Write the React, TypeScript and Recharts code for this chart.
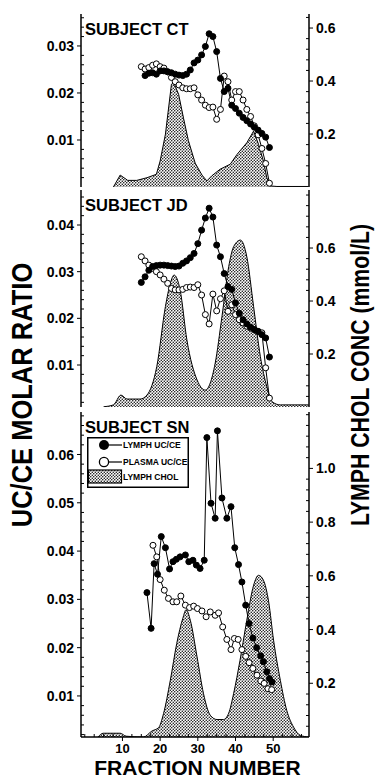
import React from "react";
import { ComposedChart, Area, Line, XAxis, YAxis, Legend } from "recharts";

// ---- values ----

// Subject CT
const CT_LYMPH_FRAC = [16, 17, 18, 19, 20, 21, 22, 23, 24, 25, 26, 27, 28, 29, 30, 31, 32, 33, 34, 35, 36, 37, 38, 39, 40, 41, 42, 43, 44, 45, 46, 47, 48, 49];
const CT_LYMPH = [0.0237, 0.0242, 0.0243, 0.024, 0.0247, 0.0247, 0.0245, 0.0243, 0.024, 0.0238, 0.0237, 0.024, 0.0249, 0.0264, 0.027, 0.0281, 0.0299, 0.0326, 0.032, 0.0288, 0.0231, 0.0203, 0.021, 0.0174, 0.0167, 0.0157, 0.0148, 0.0141, 0.0134, 0.0127, 0.0121, 0.0114, 0.0106, 0.0084];
const CT_PLASMA_FRAC = [15, 16, 17, 18, 19, 20, 21, 22, 23, 24, 25, 26, 27, 28, 29, 30, 31, 32, 33, 34, 35, 36, 37, 38, 39, 40, 41, 42, 43, 44, 45, 46, 47, 48, 49];
const CT_PLASMA = [0.0256, 0.0251, 0.0254, 0.0259, 0.0262, 0.0256, 0.0253, 0.0245, 0.0233, 0.0224, 0.0217, 0.0211, 0.0209, 0.0209, 0.0211, 0.0196, 0.0185, 0.0174, 0.0169, 0.017, 0.0144, 0.0165, 0.0236, 0.0224, 0.0185, 0.0203, 0.0203, 0.0185, 0.0165, 0.015, 0.013, 0.0111, 0.0082, 0.005, 0.0008];
const CT_CHOL_FRAC = [7.6, 9.4, 11.4, 13.8, 16.5, 19.0, 20.0, 21.4, 23.0, 23.6, 24.9, 26.2, 27.5, 29.3, 31.1, 32.4, 33.7, 35.9, 38.6, 40.4, 43.0, 44.8, 46.1, 47.4, 48.3, 49.2, 51.0, 59.4];
const CT_CHOL = [0, 0.045, 0.025, 0.025, 0.035, 0.048, 0.098, 0.199, 0.388, 0.394, 0.35, 0.26, 0.175, 0.09, 0.045, 0.023, 0.042, 0.067, 0.086, 0.123, 0.167, 0.211, 0.161, 0.098, 0.035, 0.004, 0.002, 0.002];

// Subject JD
const JD_FRAC = [15, 16, 17, 18, 19, 20, 21, 22, 23, 24, 25, 26, 27, 28, 29, 30, 31, 32, 33, 34, 35, 36, 37, 38, 39, 40, 41, 42, 43, 44, 45, 46, 47, 48, 49];
const JD_LYMPH = [0.0277, 0.0289, 0.0303, 0.0311, 0.0313, 0.0314, 0.0314, 0.0313, 0.0312, 0.0311, 0.0312, 0.0318, 0.0323, 0.033, 0.0339, 0.036, 0.0389, 0.0415, 0.0436, 0.0417, 0.0357, 0.0332, 0.0296, 0.0268, 0.0262, 0.0233, 0.0211, 0.0197, 0.0188, 0.0181, 0.0176, 0.0172, 0.0165, 0.0158, 0.0117];
const JD_PLASMA = [0.0332, 0.0323, 0.0314, 0.0307, 0.03, 0.0293, 0.0284, 0.0275, 0.0264, 0.0261, 0.0261, 0.0262, 0.0266, 0.0267, 0.0266, 0.0272, 0.025, 0.0208, 0.0188, 0.0252, 0.0216, 0.0242, 0.0259, 0.0215, 0.0229, 0.0208, 0.0197, 0.019, 0.0183, 0.0179, 0.0176, 0.0172, 0.0169, 0.0094, 0.0029];
const JD_CHOL_FRAC = [5.0, 7.6, 9.6, 11.2, 14.7, 16.5, 19.1, 21.4, 22.7, 23.7, 25.3, 27.1, 29.8, 32.0, 34.6, 36.4, 38.2, 39.5, 41.3, 43.0, 44.8, 46.6, 48.3, 49.7, 51.9, 59.4];
const JD_CHOL = [0.001, 0.008, 0.045, 0.03, 0.03, 0.045, 0.152, 0.379, 0.467, 0.498, 0.442, 0.253, 0.102, 0.064, 0.165, 0.341, 0.53, 0.605, 0.63, 0.567, 0.379, 0.19, 0.077, 0.02, 0.008, 0.008];

// Subject SN
const SN_LYMPH_FRAC = [16.5, 17.6, 18.4, 19.3, 20.3, 21.4, 22.5, 23.4, 24.3, 25.3, 26.7, 27.6, 28.7, 29.6, 30.6, 31.7, 32.4, 33.5, 34.6, 35.2, 36.4, 37.7, 38.8, 39.8, 40.8, 41.7, 42.7, 43.6, 44.6, 45.6, 46.7, 47.4, 48.3, 49.0, 49.7];
const SN_LYMPH = [0.0314, 0.024, 0.0374, 0.0352, 0.043, 0.0407, 0.0363, 0.0378, 0.0383, 0.0388, 0.0392, 0.0378, 0.0381, 0.0371, 0.0364, 0.0381, 0.0635, 0.0499, 0.0468, 0.0649, 0.051, 0.0468, 0.0492, 0.0407, 0.0372, 0.0336, 0.0288, 0.025, 0.022, 0.02, 0.0183, 0.0171, 0.015, 0.0136, 0.0129];
const SN_PLASMA_FRAC = [18.1, 19.1, 20.0, 21.1, 22.2, 23.4, 24.4, 25.5, 26.7, 27.8, 28.9, 29.9, 31.1, 32.2, 33.3, 34.6, 35.5, 36.6, 37.7, 38.8, 39.7, 40.7, 41.7, 42.7, 43.6, 44.6, 45.7, 46.7, 47.6, 48.6, 49.6];
const SN_PLASMA = [0.0412, 0.0388, 0.0341, 0.0319, 0.0302, 0.0295, 0.0295, 0.0307, 0.0288, 0.0283, 0.0286, 0.0281, 0.0276, 0.0264, 0.0274, 0.0267, 0.0272, 0.0243, 0.0217, 0.0196, 0.0219, 0.0217, 0.0196, 0.0182, 0.0169, 0.0157, 0.0143, 0.0131, 0.0126, 0.0115, 0.0113];
const SN_CHOL_FRAC = [3.5, 4.9, 9.4, 11.0, 15.6, 17.8, 19.6, 20.9, 22.7, 24.4, 26.0, 26.9, 28.0, 29.8, 31.5, 33.3, 35.1, 36.8, 38.2, 39.5, 41.2, 43.0, 44.8, 46.1, 47.4, 48.8, 50.1, 51.9, 53.6, 55.4, 57.2, 59.4];
const SN_CHOL = [0, 0.014, 0.014, 0.003, 0, 0.022, 0.035, 0.087, 0.211, 0.348, 0.441, 0.474, 0.435, 0.298, 0.162, 0.081, 0.065, 0.065, 0.089, 0.162, 0.286, 0.435, 0.565, 0.602, 0.584, 0.503, 0.36, 0.211, 0.099, 0.037, 0.006, 0];

// axes
const X_DOMAIN: [number, number] = [-1, 59.5];
const X_LABELS = [10, 20, 30, 40, 50];
const CT_LEFT_LABELS = [0.01, 0.02, 0.03];
const JD_LEFT_LABELS = [0.01, 0.02, 0.03, 0.04];
const SN_LEFT_LABELS = [0.01, 0.02, 0.03, 0.04, 0.05, 0.06];
const CT_RIGHT_LABELS = [0.2, 0.4, 0.6];
const JD_RIGHT_LABELS = [0.2, 0.4, 0.6];
const SN_RIGHT_LABELS = [0.2, 0.4, 0.6, 0.8, 1.0];
const LEGEND_ITEMS = ["LYMPH UC/CE", "PLASMA UC/CE", "LYMPH CHOL"];

const FONT = '"Liberation Sans", Arial, Helvetica, sans-serif';
const TS = 4;
const TM = 3;
const PAD = 6;
const XLAB_H = 20;
const AXIS_LINE = { stroke: "#000", strokeWidth: 1.5 };

type Pt = { f: number; v: number };
const zip = (f: number[], v: number[]): Pt[] => f.map((x, i) => ({ f: x, v: v[i] }));

// minor tick positions between start and end
const steps = (start: number, end: number, step: number) => {
  const out: number[] = [];
  for (let k = 0; start + k * step <= end + 1e-9; k++) {
    out.push(Math.round((start + k * step) * 1e6) / 1e6);
  }
  return out;
};

const isIn = (list: number[], v: number) => list.some((m) => Math.abs(m - v) < 1e-7);

function makeTick(
  side: "left" | "right" | "top" | "bottom",
  majors: number[],
  fmt: (v: number) => string,
  labels: boolean
) {
  return (props: any) => {
    const { x, y, payload } = props;
    const v = payload.value;
    const major = isIn(majors, v);
    const off = TS + TM;
    const txt = {
      fontFamily: FONT,
      fontWeight: 700,
      fontSize: 14,
      fill: "#000",
    };
    if (side === "left") {
      const ax = x + off;
      return (
        <g>
          <line x1={ax} y1={y} x2={major ? ax - 4 : ax + 3} y2={y} stroke="#000" />
          {major && labels && (
            <text x={x} y={y} dy="0.36em" textAnchor="end" {...txt}>
              {fmt(v)}
            </text>
          )}
        </g>
      );
    }
    if (side === "right") {
      const ax = x - off;
      return (
        <g>
          <line x1={ax} y1={y} x2={major ? ax + 4 : ax - 3} y2={y} stroke="#000" />
          {major && labels && (
            <text x={x} y={y} dy="0.36em" textAnchor="start" {...txt}>
              {fmt(v)}
            </text>
          )}
        </g>
      );
    }
    if (side === "bottom") {
      const ay = y - off;
      return (
        <g>
          <line x1={x} y1={ay} x2={x} y2={major ? ay + 4 : ay - 3} stroke="#000" />
          {major && labels && (
            <text x={x} y={y} dy="0.72em" textAnchor="middle" {...txt} fontSize={13}>
              {fmt(v)}
            </text>
          )}
        </g>
      );
    }
    const ay = y + off;
    return (
      <g>
        <line x1={x} y1={ay} x2={x} y2={major ? ay - 4 : ay + 3} stroke="#000" />
      </g>
    );
  };
}

// stipple fill for the lymph cholesterol profile
function Dots({ id }: { id: string }) {
  return (
    <pattern id={id} width="3" height="3" patternUnits="userSpaceOnUse">
      <rect width="3" height="3" fill="#fff" />
      <circle cx="0.75" cy="0.75" r="0.75" fill="#000" />
      <circle cx="2.25" cy="2.25" r="0.75" fill="#000" />
    </pattern>
  );
}

function LegendBox() {
  const t = { fontFamily: FONT, fontWeight: 700, fontSize: 8.5, fill: "#000" };
  return (
    <svg width={102} height={51} style={{ display: "block" }}>
      <defs>
        <Dots id="dotsLegend" />
      </defs>
      <rect x={0.75} y={0.75} width={100.5} height={49.5} fill="#fff" stroke="#000" strokeWidth={1.5} />
      <line x1={17} y1={8} x2={35} y2={8} stroke="#000" strokeWidth={1.2} />
      <circle cx={17} cy={8} r={5} fill="#000" />
      <line x1={17} y1={25} x2={35} y2={25} stroke="#000" strokeWidth={1.2} />
      <circle cx={17} cy={25} r={4.6} fill="#fff" stroke="#000" strokeWidth={1.3} />
      <rect x={1.5} y={33} width={33} height={13} fill="url(#dotsLegend)" stroke="#000" strokeWidth={1.2} />
      <text x={36} y={11} {...t}>{LEGEND_ITEMS[0]}</text>
      <text x={36} y={28} {...t}>{LEGEND_ITEMS[1]}</text>
      <text x={36} y={43} {...t}>{LEGEND_ITEMS[2]}</text>
    </svg>
  );
}

type PanelProps = {
  top: number;
  height: number;
  id: string;
  subject: string;
  lymph: Pt[];
  plasma: Pt[];
  chol: Pt[];
  curve: "linear" | "monotone";
  leftDomain: [number, number];
  leftLabels: number[];
  rightDomain: [number, number];
  rightLabels: number[];
  xLabels?: boolean;
  legend?: boolean;
};

function Panel(p: PanelProps) {
  const chartH = p.height + PAD + (p.xLabels ? XLAB_H : PAD);
  const leftTicks = steps(0.002, p.leftDomain[1], 0.002).filter((v) => v >= p.leftDomain[0]);
  const rightTicks = steps(0.04, p.rightDomain[1], 0.04);
  const xTicks = steps(0, 57.5, 2.5);
  const f2 = (v: number) => v.toFixed(2);
  const f1 = (v: number) => v.toFixed(1);
  const f0 = (v: number) => String(Math.round(v));
  return (
    <>
      <div style={{ position: "absolute", left: 0, top: p.top - PAD }}>
        <ComposedChart
          width={376}
          height={chartH}
          margin={{ top: PAD, right: 0, bottom: p.xLabels ? 0 : PAD, left: 0 }}
        >
          <defs>
            <Dots id={p.id} />
          </defs>
          <XAxis
            xAxisId="b"
            type="number"
            dataKey="f"
            domain={X_DOMAIN}
            allowDataOverflow
            ticks={xTicks}
            interval={0}
            height={p.xLabels ? XLAB_H : 0}
            axisLine={AXIS_LINE}
            tickLine={false}
            tickSize={TS}
            tickMargin={TM}
            tick={makeTick("bottom", X_LABELS, f0, !!p.xLabels)}
          />
          <XAxis
            xAxisId="t"
            orientation="top"
            type="number"
            dataKey="f"
            domain={X_DOMAIN}
            allowDataOverflow
            ticks={xTicks}
            interval={0}
            height={0}
            axisLine={AXIS_LINE}
            tickLine={false}
            tickSize={TS}
            tickMargin={TM}
            tick={makeTick("top", X_LABELS, f0, false)}
          />
          <YAxis
            yAxisId="l"
            type="number"
            domain={p.leftDomain}
            allowDataOverflow
            ticks={leftTicks}
            interval={0}
            width={81}
            axisLine={AXIS_LINE}
            tickLine={false}
            tickSize={TS}
            tickMargin={TM}
            tick={makeTick("left", p.leftLabels, f2, true)}
          />
          <YAxis
            yAxisId="r"
            orientation="right"
            type="number"
            domain={p.rightDomain}
            allowDataOverflow
            ticks={rightTicks}
            interval={0}
            width={67}
            axisLine={AXIS_LINE}
            tickLine={false}
            tickSize={TS}
            tickMargin={TM}
            tick={makeTick("right", p.rightLabels, f1, true)}
          />
          <Area
            xAxisId="b"
            yAxisId="r"
            data={p.chol}
            dataKey="v"
            name="LYMPH CHOL"
            type={p.curve}
            stroke="#000"
            strokeWidth={1}
            fill={`url(#${p.id})`}
            fillOpacity={1}
            isAnimationActive={false}
          />
          <Line
            xAxisId="b"
            yAxisId="l"
            data={p.plasma}
            dataKey="v"
            name="PLASMA UC/CE"
            type="linear"
            stroke="#000"
            strokeWidth={1}
            dot={{ r: 3, fill: "#fff", stroke: "#000", strokeWidth: 1 }}
            isAnimationActive={false}
          />
          <Line
            xAxisId="b"
            yAxisId="l"
            data={p.lymph}
            dataKey="v"
            name="LYMPH UC/CE"
            type="linear"
            stroke="#000"
            strokeWidth={1}
            dot={{ r: 3, fill: "#000", stroke: "#000", strokeWidth: 1 }}
            isAnimationActive={false}
          />
          {p.legend && (
            <Legend
              layout="vertical"
              align="center"
              verticalAlign="middle"
              content={() => <LegendBox />}
              wrapperStyle={{ left: 87, top: 437 - (p.top - PAD), width: 102, height: 51 }}
            />
          )}
        </ComposedChart>
      </div>
      <div
        style={{
          position: "absolute",
          left: 85,
          top: p.top + 7,
          fontFamily: FONT,
          fontWeight: 700,
          fontSize: 16.5,
          lineHeight: 1,
          whiteSpace: "nowrap",
        }}
      >
        {p.subject}
      </div>
    </>
  );
}

export default function App() {
  return (
    <div
      style={{
        position: "absolute",
        left: 0,
        top: 0,
        width: 376,
        height: 779,
        background: "#fff",
        overflow: "hidden",
        color: "#000",
      }}
    >
      <Panel
        top={14}
        height={173}
        id="dotsCT"
        subject="SUBJECT CT"
        lymph={zip(CT_LYMPH_FRAC, CT_LYMPH)}
        plasma={zip(CT_PLASMA_FRAC, CT_PLASMA)}
        chol={zip(CT_CHOL_FRAC, CT_CHOL)}
        curve="linear"
        leftDomain={[0, 0.0368]}
        leftLabels={CT_LEFT_LABELS}
        rightDomain={[0, 0.653]}
        rightLabels={CT_RIGHT_LABELS}
      />
      <Panel
        top={190}
        height={217}
        id="dotsJD"
        subject="SUBJECT JD"
        lymph={zip(JD_FRAC, JD_LYMPH)}
        plasma={zip(JD_FRAC, JD_PLASMA)}
        chol={zip(JD_CHOL_FRAC, JD_CHOL)}
        curve="monotone"
        leftDomain={[0.001, 0.0475]}
        leftLabels={JD_LEFT_LABELS}
        rightDomain={[0, 0.819]}
        rightLabels={JD_RIGHT_LABELS}
      />
      <Panel
        top={412}
        height={325}
        id="dotsSN"
        subject="SUBJECT SN"
        lymph={zip(SN_LYMPH_FRAC, SN_LYMPH)}
        plasma={zip(SN_PLASMA_FRAC, SN_PLASMA)}
        chol={zip(SN_CHOL_FRAC, SN_CHOL)}
        curve="monotone"
        leftDomain={[0.0015, 0.0688]}
        leftLabels={SN_LEFT_LABELS}
        rightDomain={[0, 1.21]}
        rightLabels={SN_RIGHT_LABELS}
        xLabels
        legend
      />
      <div
        style={{
          position: "absolute",
          left: 22,
          top: 395,
          transform: "translate(-50%, -50%) rotate(-90deg) scaleX(0.85)",
          fontFamily: FONT,
          fontWeight: 700,
          fontSize: 30,
          lineHeight: 1,
          whiteSpace: "nowrap",
        }}
      >
        UC/CE MOLAR RATIO
      </div>
      <div
        style={{
          position: "absolute",
          left: 360,
          top: 375,
          transform: "translate(-50%, -50%) rotate(-90deg) scaleX(0.85)",
          fontFamily: FONT,
          fontWeight: 700,
          fontSize: 25,
          lineHeight: 1,
          whiteSpace: "nowrap",
        }}
      >
        LYMPH CHOL CONC (mmol/L)
      </div>
      <div
        style={{
          position: "absolute",
          left: 197.5,
          top: 758,
          transform: "translateX(-50%)",
          fontFamily: FONT,
          fontWeight: 700,
          fontSize: 21,
          lineHeight: "20px",
          whiteSpace: "nowrap",
        }}
      >
        FRACTION NUMBER
      </div>
    </div>
  );
}
